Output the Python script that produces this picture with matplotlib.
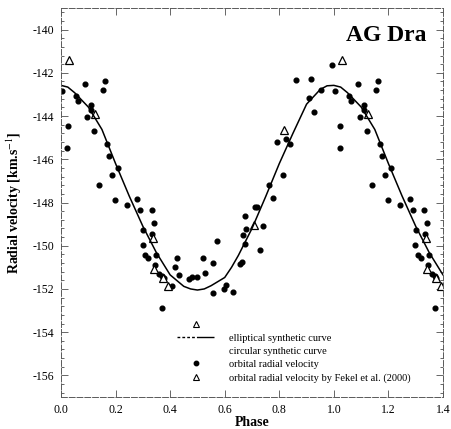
import numpy as np
import matplotlib
matplotlib.use('Agg')
import matplotlib.pyplot as plt
from matplotlib.lines import Line2D
from matplotlib.ticker import MultipleLocator, FormatStrFormatter

plt.rcParams['font.family'] = ['Liberation Serif', 'DejaVu Serif']
plt.rcParams['mathtext.fontset'] = 'stix'
plt.rcParams['axes.unicode_minus'] = False

# orbital radial velocities (phase 0..1, repeated for phase 1..1.4)
rv_phase = np.array([0.003, 0.024, 0.022, 0.054, 0.062, 0.089, 0.094, 0.110, 0.110, 0.122,
                     0.140, 0.155, 0.162, 0.170, 0.176, 0.186, 0.198, 0.210, 0.243, 0.278,
                     0.289, 0.332, 0.342, 0.302, 0.334, 0.299, 0.308, 0.320, 0.348, 0.344,
                     0.360, 0.369, 0.376, 0.406, 0.369, 0.426, 0.418, 0.434, 0.470, 0.479,
                     0.497, 0.521, 0.529, 0.558, 0.573, 0.558, 0.597, 0.605, 0.629, 0.656,
                     0.663, 0.674, 0.668, 0.678, 0.674, 0.711, 0.719, 0.741, 0.729, 0.776,
                     0.762, 0.815, 0.793, 0.824, 0.839, 0.860, 0.910, 0.917, 0.926, 0.953,
                     0.993])
rv_value = np.array([-142.82, -144.48, -145.48, -143.05, -143.30, -142.50, -144.03, -143.50, -143.72, -144.68,
                     -147.18, -142.78, -142.37, -145.28, -145.84, -146.75, -147.90, -146.40, -148.13, -147.82,
                     -148.33, -148.37, -148.93, -149.25, -149.45, -149.98, -150.42, -150.58, -150.42, -150.90,
                     -151.30, -151.42, -151.50, -151.88, -152.90, -150.55, -151.00, -151.35, -151.52, -151.47,
                     -151.43, -150.59, -151.24, -150.81, -149.78, -152.17, -151.98, -151.83, -152.14, -150.86,
                     -150.75, -149.93, -149.50, -149.24, -148.62, -148.23, -148.23, -149.11, -150.19, -147.77,
                     -147.18, -146.72, -145.19, -145.07, -145.30, -142.34, -143.15, -142.30, -143.83, -142.79,
                     -141.65])

# Fekel et al. (2000)
fekel_phase = np.array([0.031, 0.125, 0.337, 0.342, 0.373, 0.393, 0.707, 0.817])
fekel_value = np.array([-141.40, -143.90, -149.62, -151.10, -151.50, -151.87, -149.05, -144.64])

# elliptical synthetic curve
curve_phase = np.array([0.0, 0.025, 0.05, 0.10, 0.15, 0.20, 0.25, 0.30, 0.35, 0.40, 0.45,
                        0.475, 0.50, 0.525, 0.55, 0.60, 0.625, 0.65, 0.70, 0.75, 0.80, 0.85,
                        0.90, 0.95, 0.975])
curve_value = np.array([-142.58, -142.66, -142.92, -143.58, -144.62, -146.20, -147.70, -149.10,
                        -150.33, -151.35, -151.88, -152.00, -152.05, -152.00, -151.85, -151.47,
                        -151.00, -150.45, -149.20, -147.73, -146.20, -144.80, -143.45, -142.77,
                        -142.60])


def extend(ph, val, upto=1.4):
    ph2 = np.concatenate([ph, ph + 1])
    val2 = np.concatenate([val, val])
    keep = ph2 <= upto + 0.01
    return ph2[keep], val2[keep]


fig = plt.figure(figsize=(4.51, 4.29), dpi=100)
ax = fig.add_axes([61 / 451, 1 - 397 / 429, 382 / 451, 389 / 429])

x, y = extend(rv_phase, rv_value)
ax.plot(x, y, 'o', color='black', markersize=3.4, linestyle='none')
x, y = extend(fekel_phase, fekel_value)
ax.plot(x, y, '^', markerfacecolor='white', markeredgecolor='black',
        markersize=6, markeredgewidth=0.9, linestyle='none')
cp = np.append(curve_phase, 1.0)
cv = np.append(curve_value, curve_value[0])
x = np.concatenate([cp, cp[1:] + 1])
y = np.concatenate([cv, cv[1:]])
ax.plot(x, y, '-', color='black', linewidth=1.1)

ax.set_xlim(0, 1.4)
ax.set_ylim(-157, -139)
ax.xaxis.set_major_locator(MultipleLocator(0.2))
ax.xaxis.set_major_formatter(FormatStrFormatter('%.1f'))
ax.yaxis.set_major_locator(MultipleLocator(2))
ax.yaxis.set_minor_locator(MultipleLocator(0.4))
ax.tick_params(which='both', direction='in', top=True, right=True,
               labelsize=8.5, width=0.6, color='0.3')
ax.tick_params(which='major', length=5)
ax.tick_params(which='minor', length=2.5)
ax.tick_params(axis='y', pad=5)
ax.tick_params(axis='x', pad=5)
for sp in ax.spines.values():
    sp.set_linewidth(0.7)
    sp.set_color('0.35')
    sp.set_linestyle((0, (6, 2)))

ax.set_xlabel('Phase', fontsize=10, fontweight='bold', labelpad=0)
ax.set_ylabel('Radial velocity [km.s$^{-1}$]', fontsize=10, fontweight='bold', labelpad=6)

ax.text(0.958, 0.93, 'AG Dra', transform=ax.transAxes, ha='right', va='center',
        fontsize=17, fontweight='bold')

h_tri = Line2D([], [], marker='^', markerfacecolor='white', markeredgecolor='black',
               markersize=5, markeredgewidth=0.8, linestyle='none')
h_line = Line2D([], [], color='black', linewidth=1.0,
                dashes=[2, 1.5, 2, 1.5, 2, 1.5, 2, 1.5, 16, 0.01])
h_blank = Line2D([], [], linestyle='none')
h_dot = Line2D([], [], marker='o', color='black', markersize=3.2, linestyle='none')
labels = ['', 'elliptical synthetic curve', 'circular synthetic curve',
          'orbital radial velocity', 'orbital radial velocity by Fekel et al. (2000)']
ax.legend([h_tri, h_line, h_blank, h_dot, h_tri], labels, loc='lower left',
          bbox_to_anchor=(0.304, 0.037), frameon=False, fontsize=7.5,
          handlelength=3.55, handletextpad=1.4, labelspacing=0.38,
          borderpad=0, borderaxespad=0, numpoints=1)

fig.savefig('out.png', dpi=100)
